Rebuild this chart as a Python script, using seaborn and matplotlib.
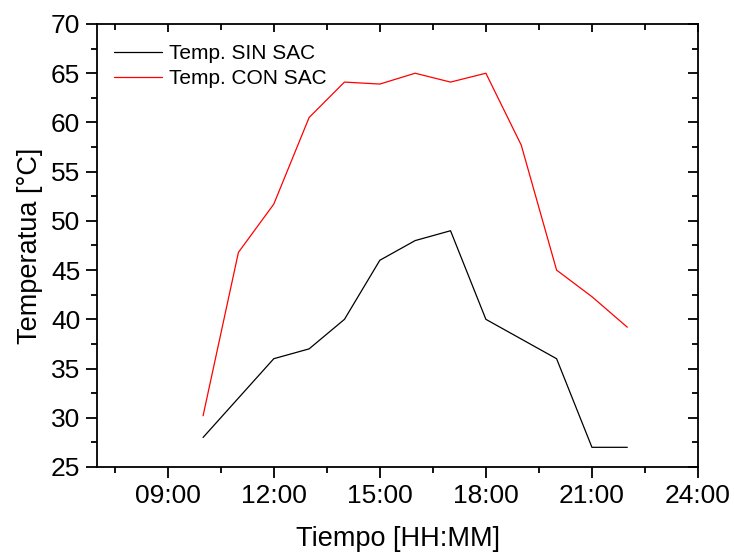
import matplotlib
matplotlib.use("Agg")
import matplotlib.pyplot as plt
import matplotlib.ticker as mticker
import seaborn as sns
import pandas as pd

hours = [10, 11, 12, 13, 14, 15, 16, 17, 18, 19, 20, 21, 22]
temp_sin_sac = [28.0, 32.0, 36.0, 37.0, 40.0, 46.0, 48.0, 49.0, 40.0, 38.0, 36.0, 27.0, 27.0]
temp_con_sac = [30.2, 46.8, 51.7, 60.5, 64.1, 63.9, 65.0, 64.1, 65.0, 57.7, 45.0, 42.3, 39.2]
series_names = ["Temp. SIN SAC", "Temp. CON SAC"]
x_ticks = [9, 12, 15, 18, 21, 24]

df = pd.DataFrame({
    "hora": hours * 2,
    "temp": temp_sin_sac + temp_con_sac,
    "serie": [series_names[0]] * len(hours) + [series_names[1]] * len(hours),
})

sns.set_style("ticks")
plt.rcParams["font.family"] = ["Liberation Sans", "DejaVu Sans"]
plt.rcParams["text.color"] = "black"
plt.rcParams["axes.labelcolor"] = "black"
plt.rcParams["xtick.color"] = "black"
plt.rcParams["ytick.color"] = "black"

fig = plt.figure(figsize=(7.34, 5.54), dpi=100)
ax = fig.add_axes([97 / 734, 1 - 467 / 554, 601 / 734, 443 / 554])

sns.lineplot(data=df, x="hora", y="temp", hue="serie", hue_order=series_names,
             palette={series_names[0]: "black", series_names[1]: "red"},
             linewidth=0.9, ax=ax, legend=True)

ax.set_xlim(7, 24)
ax.set_ylim(25, 70)
ax.xaxis.set_major_locator(mticker.FixedLocator(x_ticks))
ax.xaxis.set_minor_locator(mticker.MultipleLocator(1.5))
ax.xaxis.set_major_formatter(mticker.FuncFormatter(lambda v, p: f"{int(v):02d}:00"))
ax.yaxis.set_major_locator(mticker.MultipleLocator(5))
ax.yaxis.set_minor_locator(mticker.MultipleLocator(2.5))

for s in ax.spines.values():
    s.set_visible(True)
    s.set_linewidth(1.3)
    s.set_color("black")

ax.tick_params(which="major", direction="out", length=8, width=1.3, labelsize=19,
               pad=4, colors="black", labelcolor="black", top=False, right=False)
ax.tick_params(which="minor", direction="out", length=4.5, width=1.3,
               top=False, right=False)

# inward ticks on top and right
axt = ax.secondary_xaxis("top")
axt.xaxis.set_major_locator(mticker.FixedLocator(x_ticks))
axt.xaxis.set_minor_locator(mticker.MultipleLocator(1.5))
axt.tick_params(which="major", direction="in", length=6, width=1.3, labeltop=False)
axt.tick_params(which="minor", direction="in", length=4, width=1.3)
axt.spines["top"].set_visible(False)
axr = ax.secondary_yaxis("right")
axr.yaxis.set_major_locator(mticker.MultipleLocator(5))
axr.yaxis.set_minor_locator(mticker.MultipleLocator(2.5))
axr.tick_params(which="major", direction="in", length=7, width=1.3, labelright=False)
axr.tick_params(which="minor", direction="in", length=4, width=1.3)
axr.spines["right"].set_visible(False)

ax.set_xlabel("Tiempo [HH:MM]", fontsize=19.5, labelpad=13, color="black")
ax.set_ylabel("Temperatua [°C]", fontsize=19.5, labelpad=6, color="black")

leg = ax.legend(loc="upper left", bbox_to_anchor=(0.028, 0.955), frameon=False,
                fontsize=15, handlelength=2.3, handletextpad=0.35,
                labelspacing=0.3, borderpad=0, borderaxespad=0)
for line in leg.get_lines():
    line.set_linewidth(0.9)
for t in leg.get_texts():
    t.set_color("black")

fig.savefig("out.png", dpi=100)
